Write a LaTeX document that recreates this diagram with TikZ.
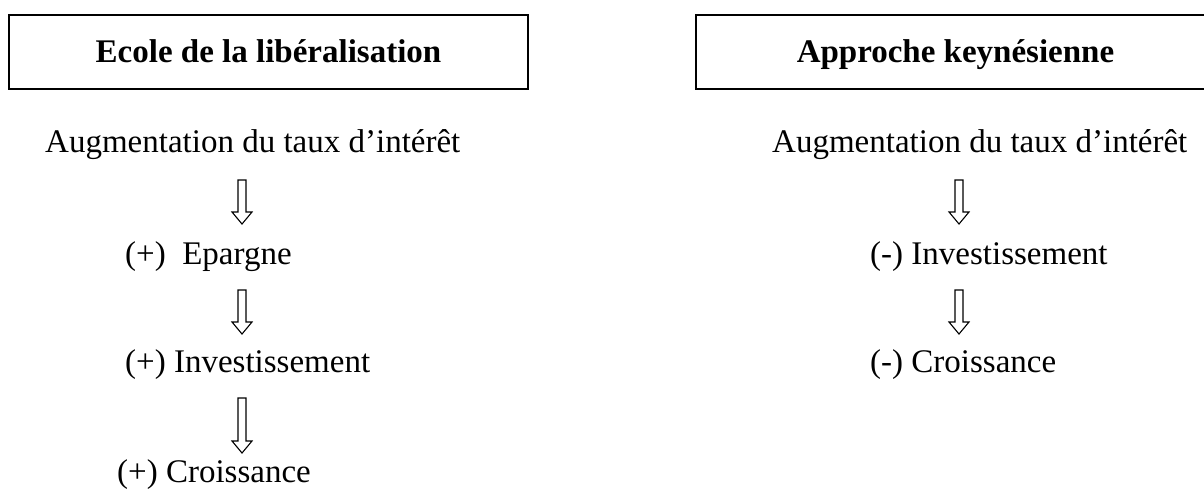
\documentclass[tikz,border=0pt]{standalone}
\usepackage{fontspec}
\setmainfont{Liberation Serif}
\begin{document}
\begin{tikzpicture}[x=1pt,y=-1pt,
  titlebox/.style={draw,line width=1.6pt},
  titletext/.style={font=\fontsize{33}{40}\selectfont\bfseries,inner sep=0pt,anchor=base},
  flowtext/.style={font=\fontsize{33}{40}\selectfont,inner sep=0pt,anchor=base west},
  hollowarrow/.style={draw,line width=1.1pt,line join=miter,fill=white}]
\useasboundingbox (0,0) rectangle (1204,488);
% block arrow: centre x, top y, tip y
\newcommand{\blockarrow}[3]{%
  \draw[hollowarrow] (#1-4,#2) -- (#1+4,#2) -- (#1+4,#3-12) -- (#1+10,#3-12)
    -- (#1,#3) -- (#1-10,#3-12) -- (#1-4,#3-12) -- cycle;}

% headings
\draw[titlebox] (9,15) rectangle (528,89);
\node[titletext] (lt) at (268.5,62) {Ecole de la libéralisation};
\draw[titlebox] (696,15) rectangle (1215,89);
\node[titletext] (rt) at (955.5,62) {Approche keynésienne};

% left chain
\node[flowtext] (l1) at (45,152) {Augmentation du taux d’intérêt};
\node[flowtext] (l2) at (125,264) {(+)\ \ Epargne};
\node[flowtext] (l3) at (125,372) {(+) Investissement};
\node[flowtext] (l4) at (117,482) {(+) Croissance};
\blockarrow{242}{180}{224}
\blockarrow{242}{290}{334}
\blockarrow{242}{398}{453}

% right chain
\node[flowtext] (r1) at (772,152) {Augmentation du taux d’intérêt};
\node[flowtext] (r2) at (870,264) {(-) Investissement};
\node[flowtext] (r3) at (870,372) {(-) Croissance};
\blockarrow{959}{180}{224}
\blockarrow{959}{290}{334}
\end{tikzpicture}
\end{document}
